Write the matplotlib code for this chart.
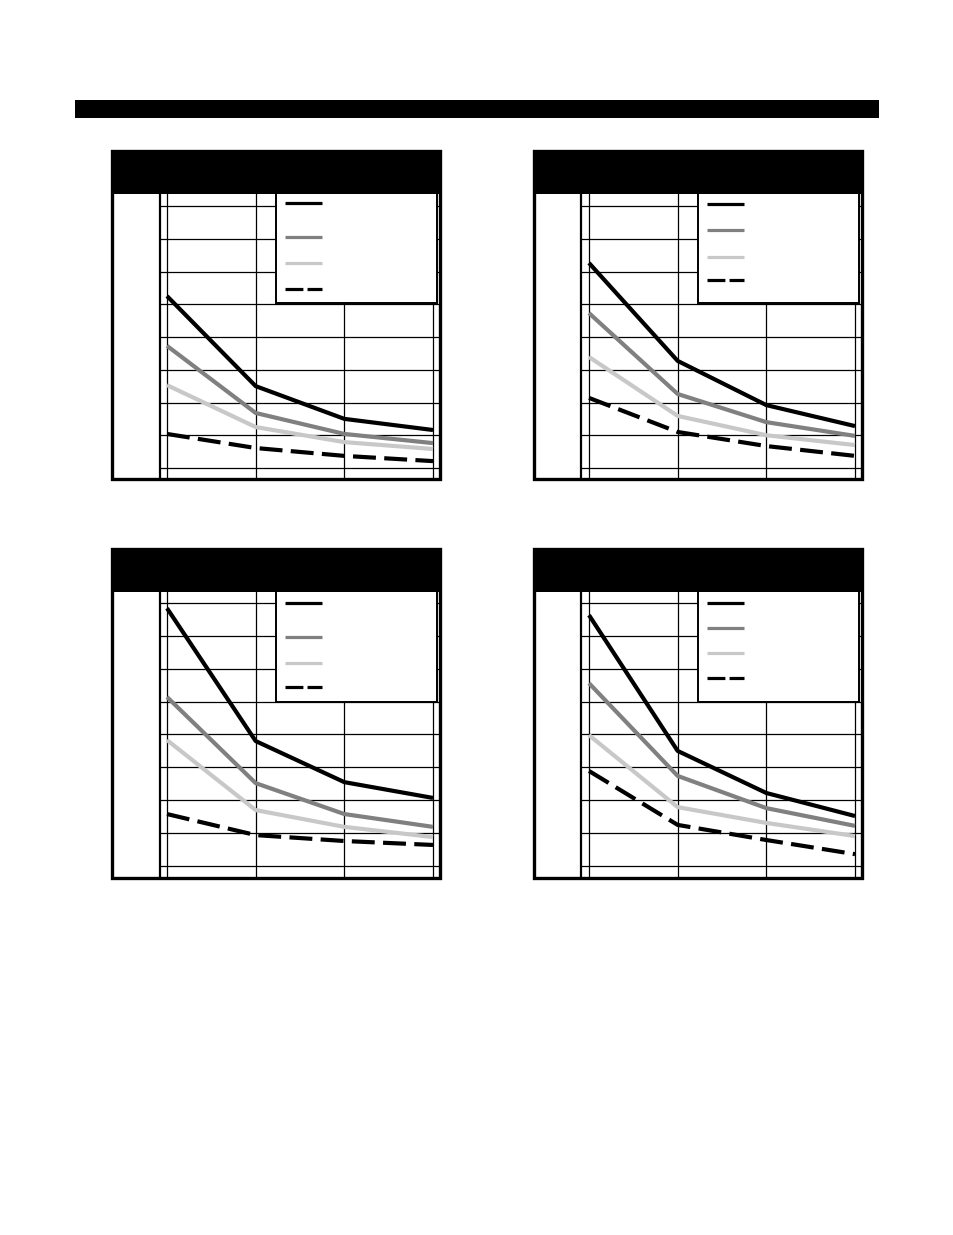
import matplotlib
matplotlib.use("Agg")
import matplotlib.pyplot as plt
from matplotlib.patches import Rectangle
from matplotlib.lines import Line2D

# ---------------- data ----------------
x_points = [0, 1, 2, 3]
series_colors = ["#000000", "#808080", "#c8c8c8", "#000000"]
series_dashed = [False, False, False, True]

panel1_values = [
    [5.25, 2.50, 1.50, 1.16],
    [3.73, 1.68, 1.04, 0.76],
    [2.53, 1.25, 0.79, 0.58],
    [1.04, 0.61, 0.37, 0.21],
]
panel2_values = [
    [6.26, 3.27, 1.92, 1.28],
    [4.73, 2.26, 1.40, 0.98],
    [3.39, 1.59, 1.00, 0.70],
    [2.14, 1.10, 0.67, 0.37],
]
panel3_values = [
    [7.84, 3.80, 2.55, 2.07],
    [5.14, 2.52, 1.58, 1.19],
    [3.83, 1.70, 1.19, 0.88],
    [1.58, 0.94, 0.76, 0.64],
]
panel4_values = [
    [7.63, 3.50, 2.22, 1.52],
    [5.56, 2.74, 1.76, 1.22],
    [3.98, 1.79, 1.31, 0.91],
    [2.89, 1.25, 0.79, 0.36],
]
y_gridlines = list(range(0, 9))

W, H = 954, 1235
fig = plt.figure(figsize=(W / 100, H / 100), dpi=100)
fig.patch.set_facecolor("white")


def fx(px):
    return px / W


def fy(py):
    return 1 - py / H


def frect(x0, y0, x1, y1, **kw):
    r = Rectangle((fx(x0), fy(y1)), fx(x1) - fx(x0), fy(y0) - fy(y1),
                  transform=fig.transFigure, **kw)
    fig.add_artist(r)
    return r


# top title bar
frect(75, 100, 879, 118, facecolor="black", edgecolor="none")

panels = [
    dict(box=(112, 151, 440, 479), hdr=194, col=160, gx0=167, gy0=468, unit_y=32.75,
         leg_left=276, leg_bot=303, leg_y=[203, 237, 263, 289], vals=panel1_values),
    dict(box=(534, 151, 862, 479), hdr=194, col=581, gx0=589, gy0=468, unit_y=32.75,
         leg_left=698, leg_bot=303, leg_y=[204, 230, 257, 280], vals=panel2_values),
    dict(box=(112, 549, 440, 878), hdr=592, col=160, gx0=167, gy0=866, unit_y=32.88,
         leg_left=276, leg_bot=702, leg_y=[603, 637, 663, 687], vals=panel3_values),
    dict(box=(534, 549, 862, 878), hdr=592, col=581, gx0=589, gy0=866, unit_y=32.88,
         leg_left=698, leg_bot=702, leg_y=[603, 628, 653, 678], vals=panel4_values),
]
unit_x = 88.67

for p in panels:
    x0, y0, x1, y1 = p["box"]
    ax = fig.add_axes([fx(p["col"]), fy(y1), fx(x1) - fx(p["col"]), fy(p["hdr"]) - fy(y1)])
    ax.set_xlim((p["col"] - p["gx0"]) / unit_x, (x1 - p["gx0"]) / unit_x)
    ax.set_ylim((p["gy0"] - y1) / p["unit_y"], (p["gy0"] - p["hdr"]) / p["unit_y"])
    for s in ["top", "right", "bottom"]:
        ax.spines[s].set_visible(False)
    ax.spines["left"].set_linewidth(1.6)
    ax.set_xticks([])
    ax.set_yticks([])
    for xv in x_points:
        ax.axvline(xv, color="black", lw=0.9, zorder=1)
    for yv in y_gridlines:
        ax.axhline(yv, color="black", lw=0.9, zorder=1)

    for vals, col, dashed in zip(p["vals"], series_colors, series_dashed):
        if dashed:
            ax.plot(x_points, vals, color=col, lw=3.0, dashes=(5.5, 2), zorder=3,
                    solid_capstyle="butt", dash_capstyle="butt")
        else:
            ax.plot(x_points, vals, color=col, lw=3.0, zorder=3, solid_capstyle="butt")

    # legend box
    aw = x1 - p["col"]
    ah = y1 - p["hdr"]
    lx = (p["leg_left"] - p["col"]) / aw
    ly = 1 - (p["leg_bot"] - p["hdr"]) / ah
    lr = (437 + (x0 - 112) - p["col"]) / aw
    ax.add_patch(Rectangle((lx, ly), lr - lx, 1.02 - ly, transform=ax.transAxes,
                           facecolor="white", edgecolor="black", lw=1.4, zorder=5))
    hx0 = (p["leg_left"] + 9 - p["col"]) / aw
    hx1 = (p["leg_left"] + 46 - p["col"]) / aw
    for yy, col, dashed in zip(p["leg_y"], series_colors, series_dashed):
        fyy = 1 - (yy - p["hdr"]) / ah
        ln = Line2D([hx0, hx1], [fyy, fyy], transform=ax.transAxes, color=col,
                    lw=2.3, zorder=6, solid_capstyle="butt", dash_capstyle="butt")
        if dashed:
            ln.set_dashes((5.6, 1.3))
        ax.add_line(ln)

    # header and outer frame
    frect(x0, y0, x1, p["hdr"], facecolor="black", edgecolor="none", zorder=10)
    frect(x0, y0, x1, y1, facecolor="none", edgecolor="black", lw=2.4, zorder=11)

fig.savefig("out.png", dpi=100, facecolor="white")
